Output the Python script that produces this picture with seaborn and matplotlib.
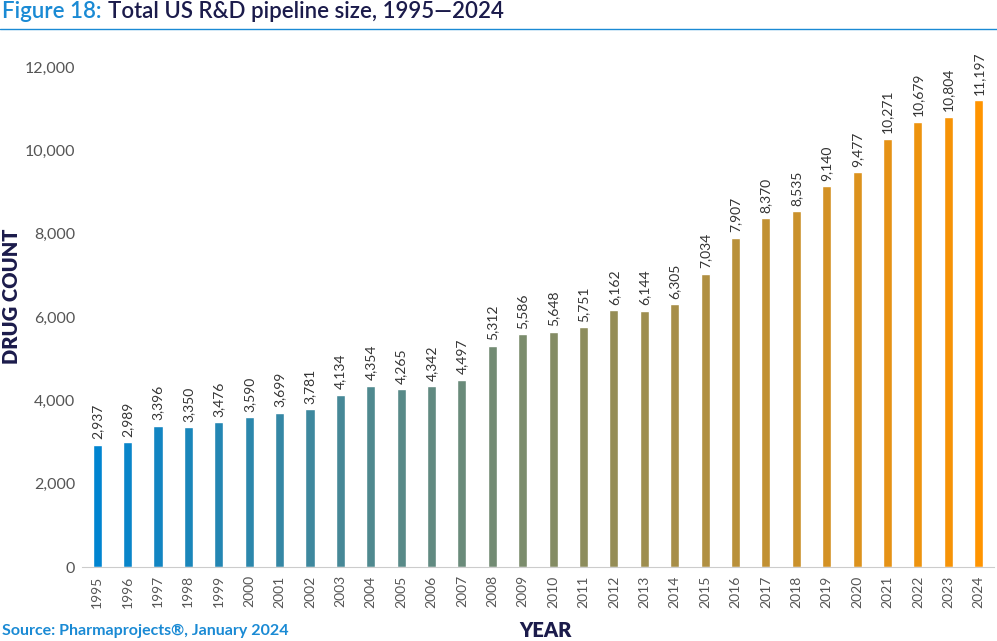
import matplotlib.pyplot as plt
import matplotlib.colors as mcolors
import numpy as np
import pandas as pd
import seaborn as sns

years = [str(y) for y in range(1995, 2025)]
drug_counts = [2937, 2989, 3396, 3350, 3476, 3590, 3699, 3781, 4134, 4354,
               4265, 4342, 4497, 5312, 5586, 5648, 5751, 6162, 6144, 6305,
               7034, 7907, 8370, 8535, 9140, 9477, 10271, 10679, 10804, 11197]
y_ticks = [0, 2000, 4000, 6000, 8000, 10000, 12000]

sns.set_style("white")
plt.rcParams["font.family"] = ["Lato", "DejaVu Sans"]

NAVY = "#1b1b4b"
BLUE = "#1a8ad4"
GRAY = "#555555"

# blue -> orange gradient across the years
start = np.array(mcolors.to_rgb("#0084d0"))
end = np.array(mcolors.to_rgb("#ff9400"))
palette = [tuple(start + (end - start) * t) for t in np.linspace(0, 1, len(years))]

df = pd.DataFrame({"year": years, "count": drug_counts})

fig = plt.figure(figsize=(9.97, 6.41), dpi=100)
ax = fig.add_axes([0.0822, 0.1154, 0.9147, 0.7801])

sns.barplot(data=df, x="year", y="count", hue="year", palette=palette,
            width=0.3, legend=False, ax=ax, saturation=1)

ax.set_xlim(-0.5, len(years) - 0.5)
ax.set_ylim(0, 12000)
ax.set_yticks(y_ticks)
ax.set_yticklabels([f"{v:,}" for v in y_ticks], fontsize=11.5, color=GRAY)
ax.tick_params(axis="x", labelrotation=90, labelsize=10, labelcolor=GRAY, length=0, pad=6)
ax.tick_params(axis="y", length=0, pad=5)
for s in ["top", "right", "left"]:
    ax.spines[s].set_visible(False)
ax.spines["bottom"].set_color("#cccccc")
ax.set_xlabel("")
ax.set_ylabel("")

# value labels above bars
for i, v in enumerate(drug_counts):
    ax.annotate(f"{v:,}", (i, v), xytext=(0, 4), textcoords="offset points",
                rotation=90, ha="center", va="bottom", fontsize=10, color="#333333")

# axis titles
fig.text(0.012, 0.537, "DRUG COUNT", rotation=90, ha="center", va="center",
         fontsize=14.5, fontweight="heavy", color=NAVY)
fig.text(0.547, 0.017, "YEAR", ha="center", va="center",
         fontsize=14.5, fontweight="heavy", color=NAVY)

# header and source
fig_lbl = fig.text(0.002, 0.982, "Figure 18:", ha="left", va="center", fontsize=16,
                   fontweight="semibold", color=BLUE)
ax.annotate("Total US R&D pipeline size, 1995\u20142024", xy=(1, 0.5), xycoords=fig_lbl,
            xytext=(5, 0), textcoords="offset points", ha="left", va="center",
            fontsize=16, fontweight="semibold", color=NAVY, annotation_clip=False)
fig.add_artist(plt.Line2D([0, 1], [0.955, 0.955], color=BLUE, lw=1, transform=fig.transFigure))
fig.text(0.002, 0.015, "Source: Pharmaprojects\u00ae, January 2024", ha="left", va="center",
         fontsize=11.5, fontweight="bold", color=BLUE)

plt.savefig("out.png", dpi=100)
